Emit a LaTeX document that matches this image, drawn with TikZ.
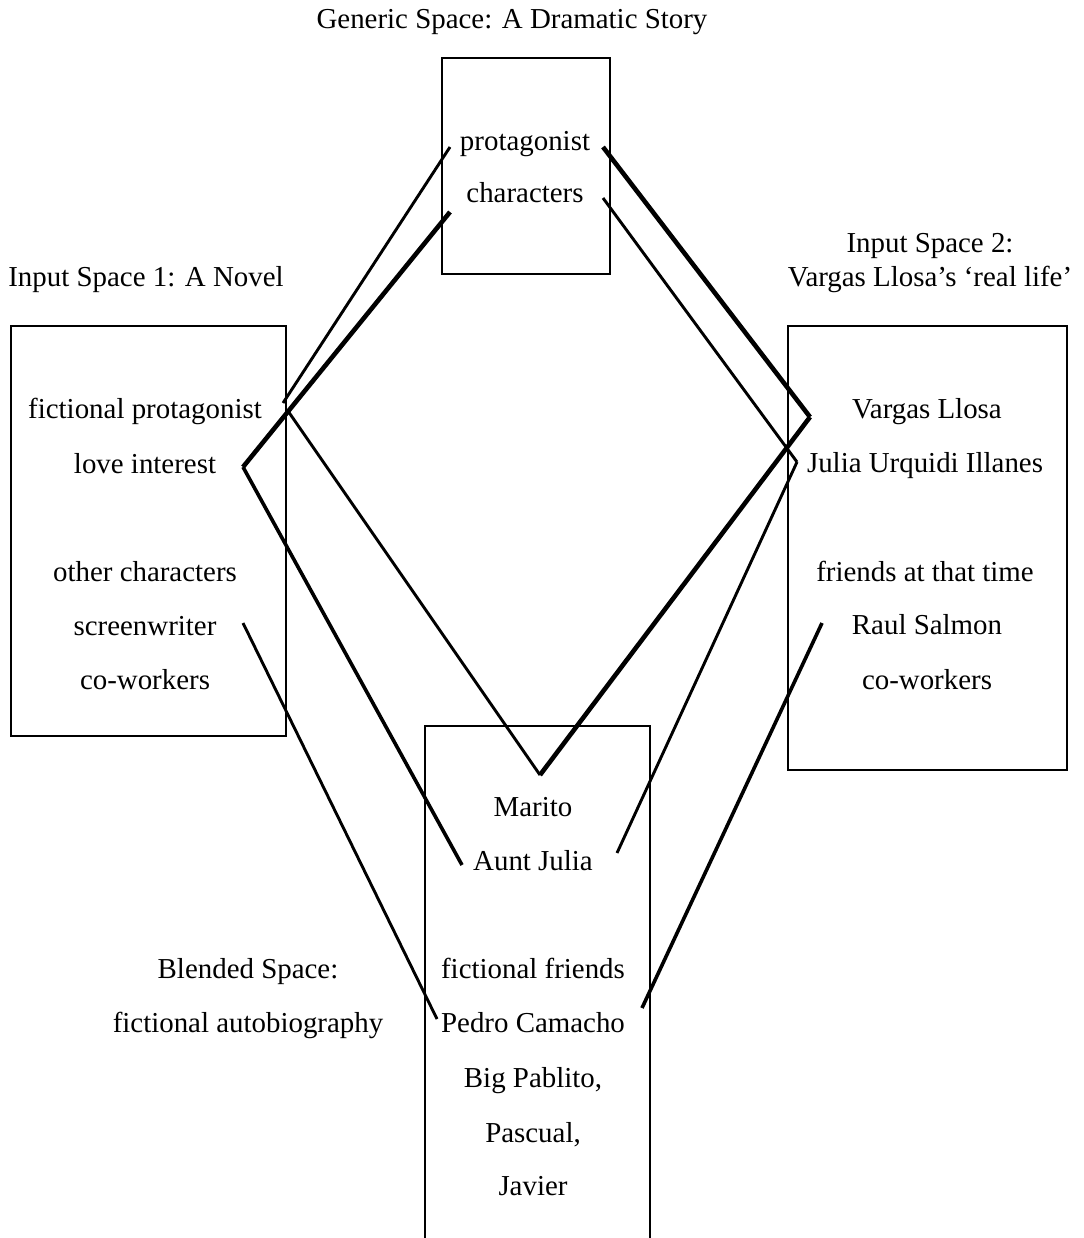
\documentclass[tikz,border=0pt]{standalone}
\usepackage{fontspec}
\setmainfont{Liberation Serif}
\begin{document}
\begin{tikzpicture}[x=1pt,y=-1pt,
  every node/.style={font=\fontsize{28.9}{34}\selectfont, inner sep=0pt},
  lbl/.style={anchor=base},
  box/.style={draw, line width=1.9pt},
  thinc/.style={line width=2.9pt},
  midc/.style={line width=3.6pt},
  thickc/.style={line width=4.6pt}]
\useasboundingbox (0,0) rectangle (1083,1238);

% boxes
\node[box, minimum width=168pt, minimum height=216pt] (genbox) at (526,166) {};
\node[box, minimum width=275pt, minimum height=410pt] (leftbox) at (148.5,531) {};
\node[box, minimum width=279pt, minimum height=444pt] (rightbox) at (927.5,548) {};
\draw[box] (425,1250) -- (425,726) -- (650,726) -- (650,1250);

% titles
\node[lbl] (gtitle) at (512,29) {Generic Space: A Dramatic Story};
\node[lbl] (ltitle) at (146,287) {Input Space 1: A Novel};
\node[lbl] (rtitleA) at (930,253) {Input Space 2:};
\node[lbl] (rtitleB) at (930,287) {Vargas Llosa’s ‘real life’};
\node[lbl] (btitleA) at (248,978) {Blended Space:};
\node[lbl] (btitleB) at (248,1032) {fictional autobiography};

% generic
\node[lbl] (gprot) at (525,151) {protagonist};
\node[lbl] (gchar) at (525,203) {characters};

% input 1
\node[lbl] (fprot) at (145,418) {fictional protagonist};
\node[lbl] (love) at (145,473) {love interest};
\node[lbl] (other) at (145,581) {other characters};
\node[lbl] (screen) at (145,635) {screenwriter};
\node[lbl] (cowl) at (145,689) {co-workers};

% input 2
\node[lbl] (vl) at (927,418) {Vargas Llosa};
\node[lbl] (jui) at (925,472) {Julia Urquidi Illanes};
\node[lbl] (friends) at (925,581) {friends at that time};
\node[lbl] (raul) at (927,634) {Raul Salmon};
\node[lbl] (cowr) at (927,689) {co-workers};

% blend
\node[lbl] (marito) at (533,816) {Marito};
\node[lbl] (aunt) at (533,870) {Aunt Julia};
\node[lbl] (ffr) at (533,978) {fictional friends};
\node[lbl] (pedro) at (533,1032) {Pedro Camacho};
\node[lbl] (pablito) at (533,1087) {Big Pablito,};
\node[lbl] (pascual) at (533,1142) {Pascual,};
\node[lbl] (javier) at (533,1195) {Javier};

% connector ends
\coordinate (gpL) at (450,147);
\coordinate (gcL) at (450,212);
\coordinate (gpR) at (603,147);
\coordinate (gcR) at (603,198);
\coordinate (fpA) at (283,403);
\coordinate (fpB) at (288,411);
\coordinate (li) at (243,467);
\coordinate (sw) at (243,623);
\coordinate (vlc) at (810,417);
\coordinate (juc) at (797,462);
\coordinate (rs) at (822,623);
\coordinate (ma) at (540,775);
\coordinate (ajL) at (462,865);
\coordinate (ajR) at (617,853);
\coordinate (pcL) at (437,1019);
\coordinate (pcR) at (642,1008);

% connectors
\draw[thinc] (gpL) -- (fpA);
\draw[thickc] (gcL) -- (li);
\draw[thinc] (fpB) -- (ma);
\draw[midc] (li) -- (ajL);
\draw[thinc] (sw) -- (pcL);
\draw[thickc] (gpR) -- (vlc);
\draw[thinc] (gcR) -- (juc);
\draw[thickc] (vlc) -- (ma);
\draw[thinc] (juc) -- (ajR);
\draw[midc] (rs) -- (pcR);
\end{tikzpicture}
\end{document}
